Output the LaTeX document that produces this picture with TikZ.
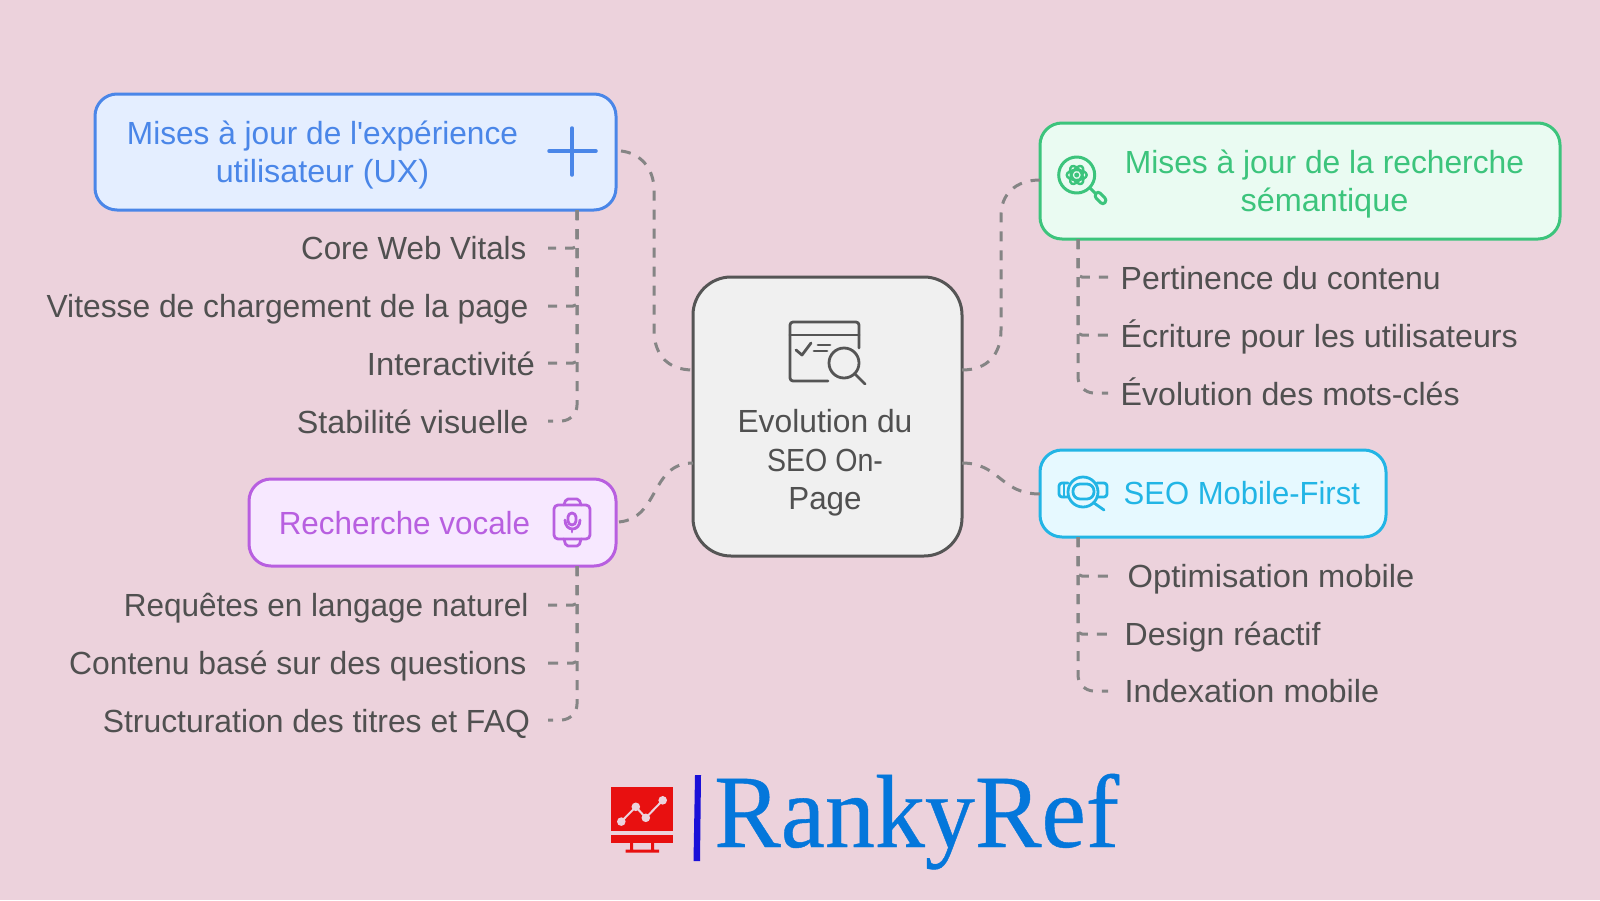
\documentclass[tikz,border=0pt]{standalone}
\usepackage{fontspec}
\setmainfont[FakeStretch=0.97,Ligatures=TeXOff]{Liberation Sans}
\newfontfamily\logofont[FakeStretch=0.96,FakeBold=0.4]{Liberation Serif}
\newcommand{\sxx}[2]{\scalebox{#1}[1]{#2}}
\definecolor{bg}{HTML}{ECD2DC}
\definecolor{txt}{HTML}{505050}
\definecolor{conn}{HTML}{858585}
\definecolor{cgrey}{HTML}{555555}
\definecolor{cblue}{HTML}{4A86E8}\definecolor{fblue}{HTML}{E4EEFF}
\definecolor{cgreen}{HTML}{3CC47C}\definecolor{fgreen}{HTML}{EAFBF2}
\definecolor{ccyan}{HTML}{22B5E5}\definecolor{fcyan}{HTML}{E6F9FF}
\definecolor{cpurp}{HTML}{B85FE0}\definecolor{fpurp}{HTML}{F7E8FF}
\definecolor{logoblue}{HTML}{0477DB}\definecolor{logored}{HTML}{E81010}\definecolor{logobar}{HTML}{1A10D8}
\tikzset{
 x=1pt,y=-1pt,
 box/.style={draw=#1,line width=3pt,rounded corners=22pt,inner sep=0pt},
 lbl/.style={inner sep=0pt,text=txt,font=\fontsize{32}{38.4}\selectfont},
 ttl/.style={inner sep=0pt,text=#1,font=\fontsize{32}{38.4}\selectfont,align=center},
 link/.style={draw=conn,line width=3pt,dash pattern=on 10pt off 9pt},
 ico/.style={draw=#1,line width=2.8pt,line cap=round,line join=round},
}
\begin{document}
\begin{tikzpicture}
\useasboundingbox[fill=bg] (0,0) rectangle (1600,900);
% boxes
\node[box=cblue,fill=fblue,minimum width=521pt,minimum height=116pt] (blue) at (355.5,152) {};
\node[box=cgreen,fill=fgreen,minimum width=520pt,minimum height=116pt] (green) at (1300,181) {};
\node[box=ccyan,fill=fcyan,minimum width=346pt,minimum height=87pt] (cyan) at (1213,493.5) {};
\node[box=cpurp,fill=fpurp,minimum width=367pt,minimum height=87pt] (purp) at (432.5,522.5) {};
\node[box=cgrey,fill=black!6,minimum width=269pt,minimum height=279pt,rounded corners=38pt] (hub) at (827.5,416.5) {};
% titles
\node[ttl=cblue,anchor=center] (tblue) at (322.5,155) {\sxx{1.019}{Mises à jour de l'expérience}\\\sxx{1.04}{utilisateur (UX)}};
\node[ttl=cgreen,anchor=center] (tgreen) at (1324.5,184) {\sxx{1.024}{Mises à jour de la recherche}\\\sxx{1.045}{sémantique}};
\node[ttl=ccyan,anchor=base west] (tcyan) at (1123.5,504) {SEO Mobile-First};
\node[ttl=cpurp,anchor=base west] (tpurp) at (278.6,534) {\sxx{1.012}{Recherche vocale}};
\node[lbl,align=center,anchor=center] (thub) at (825,463) {\sxx{1.024}{Evolution du}\\\sxx{0.92}{SEO On-}\\\sxx{1.01}{Page}};
% left labels
\node[lbl,anchor=base east] (a1) at (526.5,259) {\sxx{1.009}{Core Web Vitals}};
\node[lbl,anchor=base east] (a2) at (528.6,317) {\sxx{1.024}{Vitesse de chargement de la page}};
\node[lbl,anchor=base east] (a3) at (535,375) {\sxx{1.058}{Interactivité}};
\node[lbl,anchor=base east] (a4) at (528.6,433) {\sxx{1.04}{Stabilité visuelle}};
\node[lbl,anchor=base east] (b1) at (528.6,616) {\sxx{1.015}{Requêtes en langage naturel}};
\node[lbl,anchor=base east] (b2) at (526.5,674) {\sxx{1.027}{Contenu basé sur des questions}};
\node[lbl,anchor=base east] (b3) at (530,732) {\sxx{1.027}{Structuration des titres et FAQ}};
% right labels
\node[lbl,anchor=base west] (c1) at (1120.5,289) {\sxx{1.03}{Pertinence du contenu}};
\node[lbl,anchor=base west] (c2) at (1120.5,347) {\sxx{1.037}{Écriture pour les utilisateurs}};
\node[lbl,anchor=base west] (c3) at (1120.5,405) {\sxx{1.034}{Évolution des mots-clés}};
\node[lbl,anchor=base west] (d1) at (1127.5,587) {\sxx{1.052}{Optimisation mobile}};
\node[lbl,anchor=base west] (d2) at (1124.5,645) {\sxx{1.032}{Design réactif}};
\node[lbl,anchor=base west] (d3) at (1124.5,702) {\sxx{1.046}{Indexation mobile}};
% connector ends
\coordinate (hl1) at (693,370); \coordinate (hl2) at (693,463);
\coordinate (hr1) at (962,370); \coordinate (hr2) at (962,463);
\coordinate (be) at (621,151); \coordinate (pe) at (619,522);
\coordinate (gw) at (1040,180); \coordinate (cw) at (1040,494);
\coordinate (bs) at (577,210); \coordinate (ps) at (577,566);
\coordinate (gs) at (1078,239); \coordinate (cs) at (1078,537);
\foreach \n/\xx/\yy in {ea1/548/248,ea2/548/306,ea3/548/363,ea4/548/421,eb1/548/605,eb2/548/663,eb3/548/720,
  ec1/1108/277,ec2/1108/335,ec3/1108/393,ed1/1108/576,ed2/1108/634,ed3/1108/691}
  {\coordinate (\n) at (\xx,\yy);}
% hub connectors
\draw[link] (be) .. controls (640,153) and (654,168) .. (654,190) -- (654,330) .. controls (654,355) and (668,370) .. (hl1);
\draw[link] (pe) .. controls (660,518) and (650,463) .. (hl2);
\draw[link] (hr1) .. controls (987,370) and (1001,355) .. (1001,330) -- (1001,215) .. controls (1001,195) and (1015,180) .. (gw);
\draw[link] (hr2) .. controls (1000,463) and (1000,494) .. (cw);
% trunks
\foreach \e in {ea1,ea2,ea3} \draw[link,rounded corners=4pt] (bs) |- (\e);
\draw[link,rounded corners=16pt] (bs) |- (ea4);
\foreach \e in {eb1,eb2} \draw[link,rounded corners=4pt] (ps) |- (\e);
\draw[link,rounded corners=16pt] (ps) |- (eb3);
\foreach \e in {ec1,ec2} \draw[link,rounded corners=4pt] (gs) |- (\e);
\draw[link,rounded corners=16pt] (gs) |- (ec3);
\foreach \e in {ed1,ed2} \draw[link,rounded corners=4pt] (cs) |- (\e);
\draw[link,rounded corners=16pt] (cs) |- (ed3);
% hub icon
\begin{scope}[ico=cgrey]
\draw[rounded corners=3pt] (828,381) -- (790,381) -- (790,322) -- (859,322) -- (859,348);
\draw (790,335) -- (859,335);
\draw (796,350) -- (802,355) -- (811,343);
\draw (818,345) -- (830,345); \draw (814,351) -- (827,351);
\draw (844,363) circle[radius=15pt];
\draw (855,374) -- (865,384);
\end{scope}
% plus
\draw[ico=cblue,line width=3.5pt] (549,151) -- (596,151); \draw[ico=cblue,line width=3.5pt] (572,128) -- (572,175);
% green icon
\begin{scope}[ico=cgreen]
\draw[line width=3pt] (1076.7,175) circle[radius=18pt];
\fill[cgreen] (1076.7,175) circle[radius=2.5pt];
\foreach \a in {0,60,120} \draw[rotate around={\a:(1076.7,175)},line width=2.4pt] (1076.7,175) ellipse[x radius=10pt,y radius=5pt];
\draw[line width=3pt] (1090,188) -- (1095,193);
\draw[line width=3pt,rounded corners=3pt] (1094,196) -- (1098,191) -- (1107,200) -- (1103,205) -- cycle;
\end{scope}
% cyan icon
\begin{scope}[ico=ccyan]
\draw (1083,492) circle[radius=15pt];
\draw (1094,503) -- (1104,510);
\draw[rounded corners=3pt] (1068,483) -- (1059,483) -- (1059,497) -- (1068,497);
\draw (1064,483) -- (1064,497);
\draw[rounded corners=3pt] (1097,483) -- (1107,483) -- (1107,497) -- (1097,497);
\draw[rounded corners=7pt] (1073,484) rectangle (1094,499);
\end{scope}
% purple icon
\begin{scope}[ico=cpurp]
\draw[rounded corners=4pt] (554,505) rectangle (590,539);
\draw[rounded corners=2pt] (564,505) -- (566,499) -- (579,499) -- (581,505);
\draw[rounded corners=2pt] (564,539) -- (566,546) -- (579,546) -- (581,539);
\draw[rounded corners=4pt] (568,513) rectangle (576,525);
\draw (565,520) .. controls (565,532) and (580,532) .. (580,520);
\draw (572,529) -- (572,532);
\end{scope}
% logo
\fill[logored] (611.3,787) rectangle (673.3,831);
\fill[logored] (611.3,835) rectangle (673.3,843);
\fill[logored] (630,843) rectangle (633,850) (651,843) rectangle (654,850) (625.5,849.5) rectangle (659,852.6);
\draw[bg,line width=2pt] (621.3,821.6) -- (635.8,806.8) -- (645.8,817.8) -- (662.7,800.3);
\foreach \p in {(621.3,821.6),(635.8,806.8),(645.8,817.8),(662.7,800.3)} \fill[bg] \p circle[radius=4.3pt];
\fill[logobar] (695,775) -- (701,775) -- (700,861) -- (693.5,861) -- cycle;
\node[inner sep=0pt,anchor=base west,text=logoblue,font=\logofont\fontsize{104}{104}\selectfont] (logo) at (714,847) {RankyRef};
\end{tikzpicture}
\end{document}
